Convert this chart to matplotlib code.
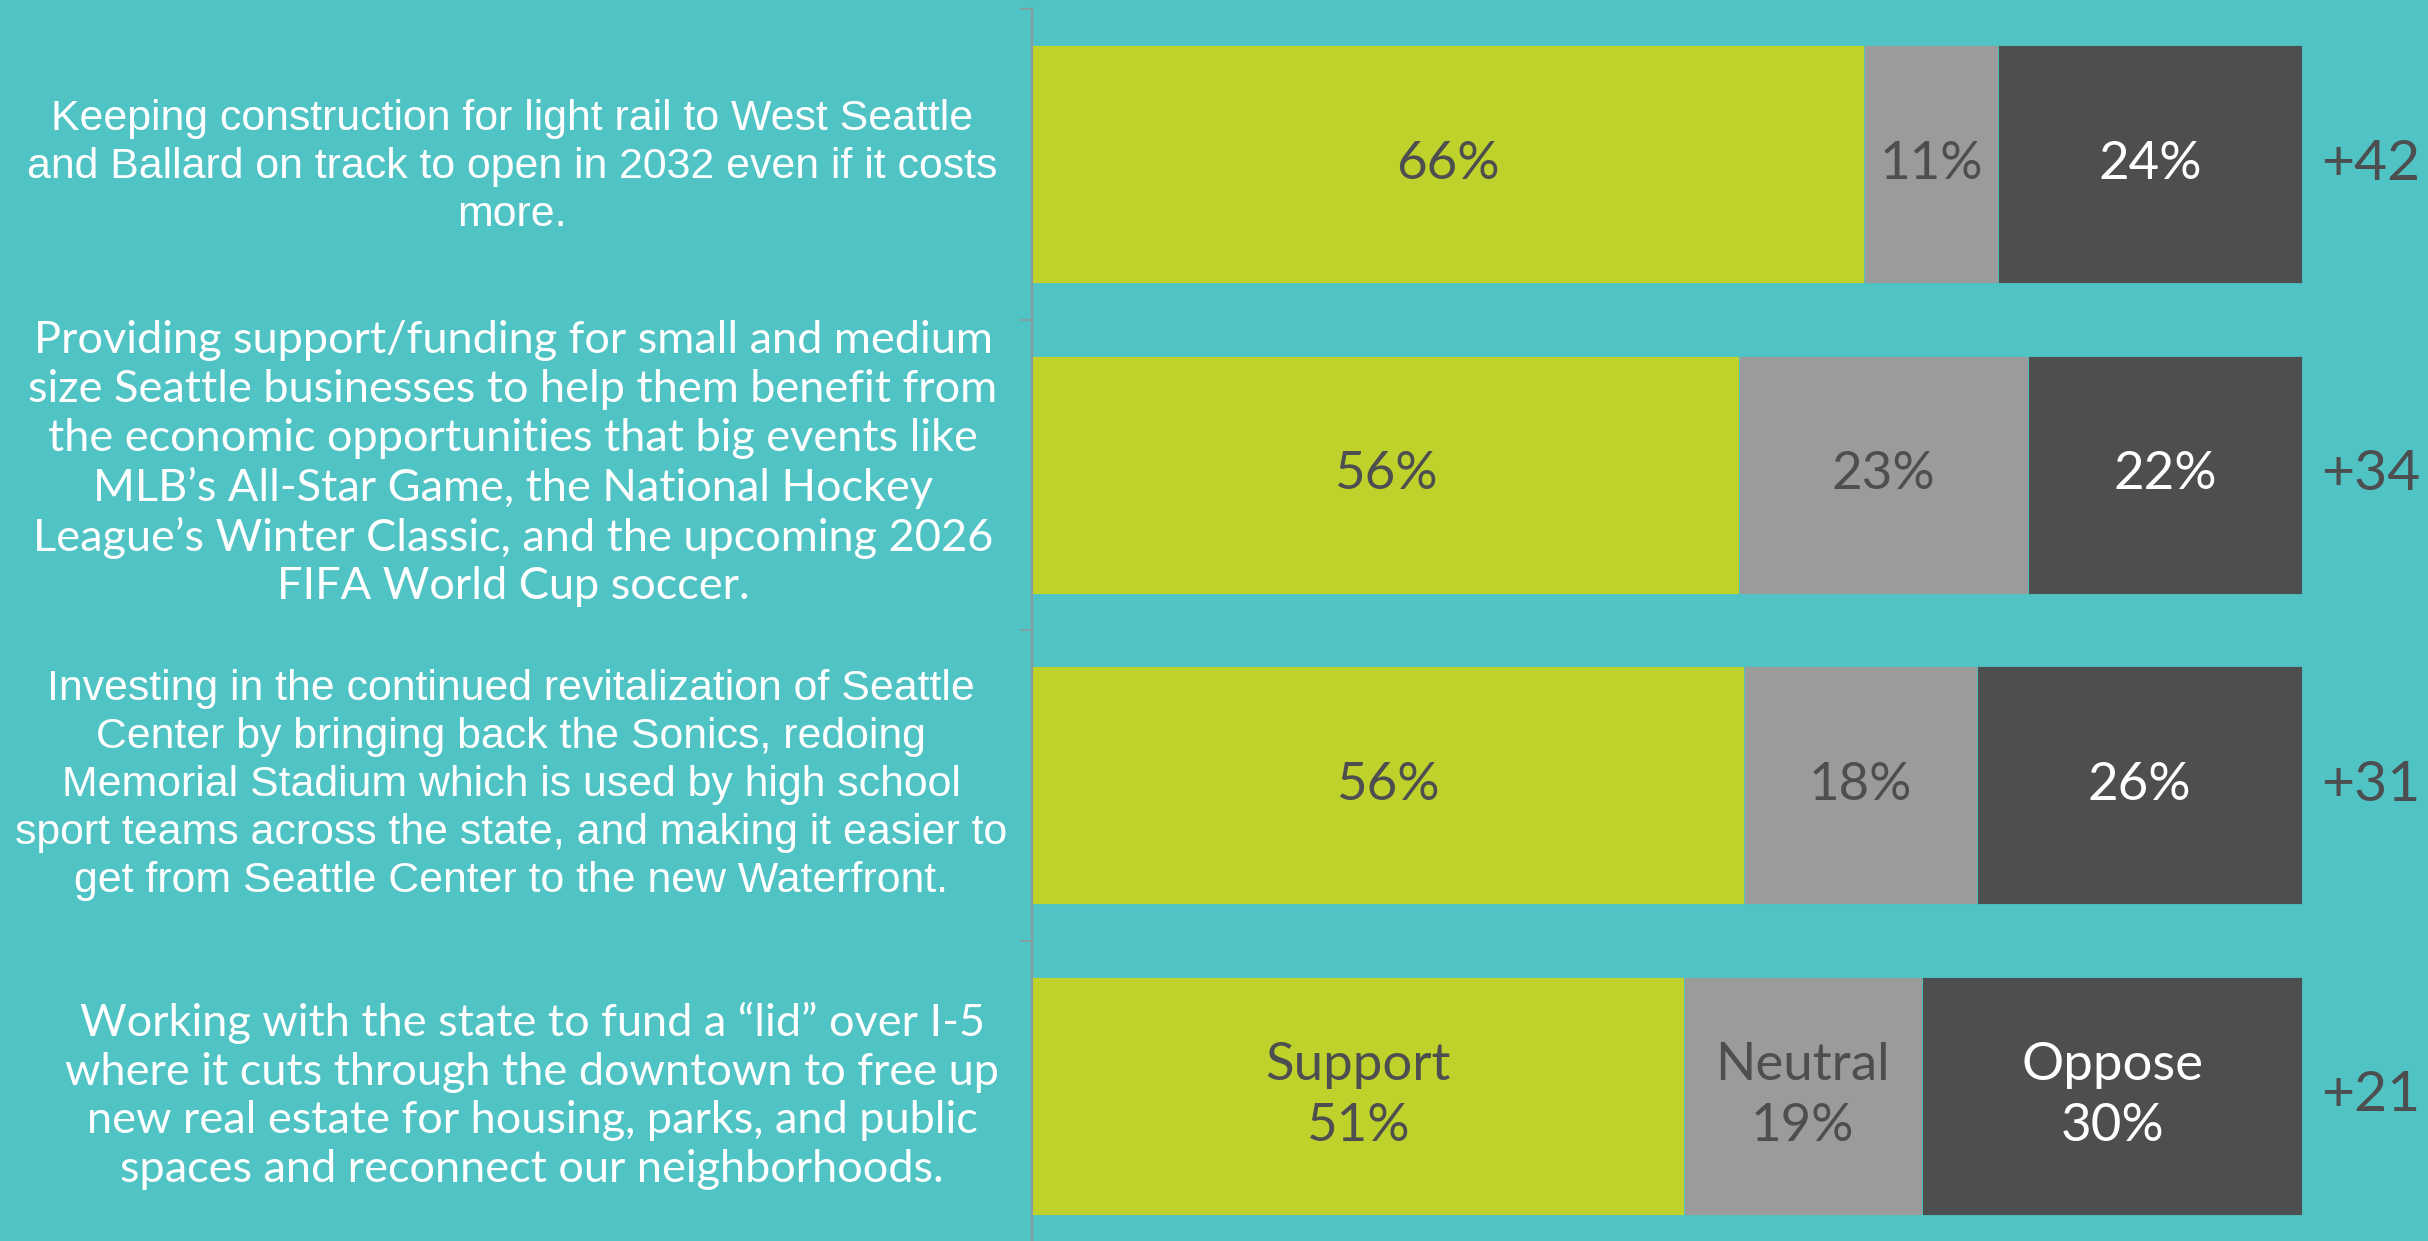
import numpy as np
import matplotlib.pyplot as plt
from matplotlib.transforms import blended_transform_factory

# survey items (left labels)
items = [
    "Keeping construction for light rail to West Seattle\nand Ballard on track to open in 2032 even if it costs\nmore.",
    "Providing support/funding for small and medium\nsize Seattle businesses to help them benefit from\nthe economic opportunities that big events like\nMLB\u2019s All-Star Game, the National Hockey\nLeague\u2019s Winter Classic, and the upcoming 2026\nFIFA World Cup soccer.",
    "Investing in the continued revitalization of Seattle\nCenter by bringing back the Sonics, redoing\nMemorial Stadium which is used by high school\nsport teams across the state, and making it easier to\nget from Seattle Center to the new Waterfront.",
    "Working with the state to fund a \u201clid\u201d over I-5\nwhere it cuts through the downtown to free up\nnew real estate for housing, parks, and public\nspaces and reconnect our neighborhoods.",
]
item_fonts = ["Liberation Sans", "Lato", "Liberation Sans", "Lato"]

# bar widths
support = [65.5, 55.7, 56.1, 51.3]
neutral = [10.6, 22.7, 18.3, 18.8]
oppose = [23.9, 21.6, 25.6, 29.9]

# printed labels
support_lbl = [66, 56, 56, 51]
neutral_lbl = [11, 23, 18, 19]
oppose_lbl = [24, 22, 26, 30]
net = [42, 34, 31, 21]

BG = "#50c3c5"
GREEN = "#bfd22b"
GRAY = "#9b9b9b"
DARK = "#4d4e50"

plt.rcParams['font.family'] = ['Lato', 'DejaVu Sans']

fig = plt.figure(figsize=(24.28, 12.41), dpi=100)
fig.patch.set_facecolor(BG)
ax = fig.add_axes([1032 / 2428, -10 / 1241, 1 - 1032 / 2428, 1242 / 1241])
ax.set_facecolor(BG)

y = np.arange(len(items))
h = 0.767
support = np.array(support)
neutral = np.array(neutral)
oppose = np.array(oppose)

ax.barh(y, support, height=h, color=GREEN, edgecolor=BG, linewidth=0.6)
ax.barh(y, neutral, left=support, height=h, color=GRAY, edgecolor=BG, linewidth=0.6)
ax.barh(y, oppose, left=support + neutral, height=h, color=DARK, edgecolor=BG, linewidth=0.6)

ax.set_xlim(0, (2428 - 1032) / 12.7)
ax.set_ylim(len(items) - 0.5, -0.5)

fs = 38
for i in range(len(items)):
    last = i == len(items) - 1
    s_txt = ("Support\n" if last else "") + f"{support_lbl[i]}%"
    n_txt = ("Neutral\n" if last else "") + f"{neutral_lbl[i]}%"
    o_txt = ("Oppose\n" if last else "") + f"{oppose_lbl[i]}%"
    ax.text(support[i] / 2, y[i], s_txt, ha='center', va='center',
            fontsize=fs, color=DARK, linespacing=1.38)
    ax.text(support[i] + neutral[i] / 2, y[i], n_txt, ha='center', va='center',
            fontsize=fs, color=DARK, linespacing=1.38)
    ax.text(support[i] + neutral[i] + oppose[i] / 2, y[i], o_txt, ha='center',
            va='center', fontsize=fs, color='white', linespacing=1.38)
    ax.text(105.4, y[i], f"+{net[i]}", ha='center', va='center',
            fontsize=41, color=DARK)

# left-hand item descriptions
tr = blended_transform_factory(fig.transFigure, ax.transData)
xcent = [512, 513, 511, 532]
yoff = [0.01, -0.035, 0.0, 0.0]
for i, txt in enumerate(items):
    if item_fonts[i] == "Lato":
        ax.text(xcent[i] / 2428, y[i] + yoff[i], txt, transform=tr, ha='center',
                va='center', fontsize=32.5, color='white',
                family=['Lato', 'DejaVu Sans'], linespacing=1.23, clip_on=False)
    else:
        ax.text(xcent[i] / 2428, y[i] + yoff[i], txt, transform=tr, ha='center',
                va='center', fontsize=30.8, color='white',
                family=['Liberation Sans', 'DejaVu Sans'], linespacing=1.26,
                clip_on=False)

for s in ['top', 'right', 'bottom']:
    ax.spines[s].set_visible(False)
ax.spines['left'].set_color('#8a9a9b')
ax.spines['left'].set_linewidth(1.5)
ax.set_xticks([])
ax.set_yticks(np.arange(len(items) + 1) - 0.5)
ax.set_yticklabels([])
ax.tick_params(axis='y', length=9, width=1.2, color='#8a9a9b')

fig.savefig("out.png", dpi=100, facecolor=BG)
